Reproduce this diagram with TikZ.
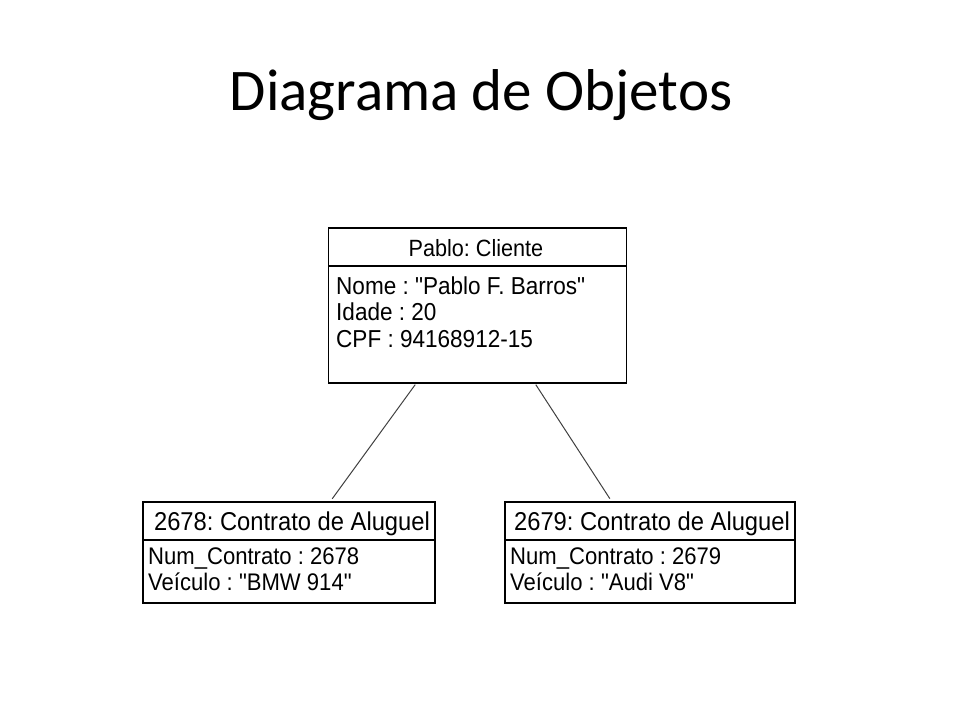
\documentclass[tikz,border=0pt]{standalone}
\usepackage{fontspec}
\setmainfont{Liberation Sans}[FakeStretch=0.92, Ligatures=TeXOff]
\newfontfamily\titlefont{Carlito}
\usetikzlibrary{calc}
\begin{document}
\frenchspacing
\begin{tikzpicture}[x=1pt,y=-1pt,
  box/.style={draw=black, line width=1.5pt, fill=white, inner sep=0pt, outer sep=0pt},
  divider/.style={draw=black, line width=1.5pt},
  hdr/.style={anchor=base, inner sep=0pt},
  attr/.style={anchor=base west, inner sep=0pt},
  link/.style={draw=black!75, line width=1pt, shorten <=2pt, shorten >=4pt}]
\useasboundingbox (0,0) rectangle (960,720);
\node[font=\titlefont\fontsize{59}{70}\selectfont, anchor=base, inner sep=0pt] (title) at (481,110) {Diagrama de Objetos};
% Cliente box
\node[box, minimum width=298pt, minimum height=155pt] (cli) at (477.5,305.5) {};
\draw[divider] (cli.west |- 0,266) -- (cli.east |- 0,266);
\node[hdr, font=\fontsize{23.5}{26}\selectfont] (clih) at (476,256) {Pablo: Cliente};
\node[attr, font=\fontsize{24.5}{26}\selectfont] (clia) at (336,294) {Nome : "Pablo F. Barros"};
\node[attr, font=\fontsize{24.5}{26}\selectfont] (clib) at (336,320) {Idade : 20};
\node[attr, font=\fontsize{24.5}{26}\selectfont] (clic) at (336,347) {CPF : 94168912-15};
% Contrato 2678
\node[box, minimum width=292pt, minimum height=101pt] (c1) at (289,552.5) {};
\draw[divider] (c1.west |- 0,540) -- (c1.east |- 0,540);
\node[hdr, font=\fontsize{25.8}{28}\selectfont] (c1h) at (292,530) {2678: Contrato de Aluguel};
\node[attr, font=\fontsize{24}{26}\selectfont] (c1a) at (148,564) {Num\_Contrato : 2678};
\node[attr, font=\fontsize{24}{26}\selectfont] (c1b) at (148,590) {Veículo : "BMW 914"};
% Contrato 2679
\node[box, minimum width=290pt, minimum height=101pt] (c2) at (650,552.5) {};
\draw[divider] (c2.west |- 0,540) -- (c2.east |- 0,540);
\node[hdr, font=\fontsize{25.8}{28}\selectfont] (c2h) at (652,530) {2679: Contrato de Aluguel};
\node[attr, font=\fontsize{24}{26}\selectfont] (c2a) at (510,564) {Num\_Contrato : 2679};
\node[attr, font=\fontsize{24}{26}\selectfont] (c2b) at (510,590) {Veículo : "Audi V8"};
% links
\draw[link] ($(cli.south west)!0.295!(cli.south east)$) -- ($(c1.north west)!0.64!(c1.north east)$);
\draw[link] ($(cli.south west)!0.692!(cli.south east)$) -- ($(c2.north west)!0.369!(c2.north east)$);
\end{tikzpicture}
\end{document}
